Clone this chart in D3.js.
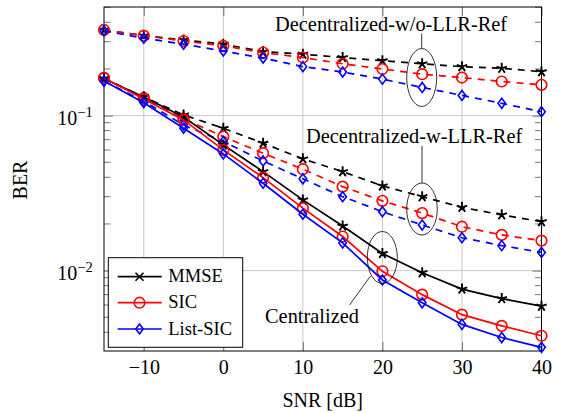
<!DOCTYPE html>
<html>
<head>
<meta charset="utf-8">
<script src="https://cdn.jsdelivr.net/npm/d3@7"></script>
<style>
  body { margin: 0; background: #fff; }
  text { font-family: "Liberation Serif", "Times New Roman", serif; fill: #000; }
</style>
</head>
<body>
<svg id="chart" width="562" height="413"></svg>
<script>
// SNR points [dB]
const snr = [-15, -10, -5, 0, 5, 10, 15, 20, 25, 30, 35, 40];

// Decentralized without LLR refinement (dashed, top group)
const woRefMMSE    = [0.357, 0.328, 0.308, 0.289, 0.259, 0.249, 0.237, 0.226, 0.216, 0.207, 0.202, 0.192];
const woRefSIC     = [0.357, 0.328, 0.303, 0.282, 0.255, 0.237, 0.216, 0.200, 0.185, 0.176, 0.166, 0.158];
const woRefListSIC = [0.352, 0.316, 0.289, 0.261, 0.235, 0.207, 0.191, 0.172, 0.152, 0.135, 0.120, 0.106];

// Decentralized with LLR refinement (dashed, middle group)
const wRefMMSE    = [0.173, 0.132, 0.101, 0.0829, 0.0664, 0.0526, 0.0435, 0.0352, 0.0300, 0.0256, 0.0229, 0.0207];
const wRefSIC     = [0.175, 0.130, 0.0953, 0.0732, 0.0572, 0.0451, 0.0348, 0.0282, 0.0235, 0.0192, 0.0170, 0.0156];
const wRefListSIC = [0.167, 0.124, 0.0869, 0.0680, 0.0510, 0.0391, 0.0300, 0.0240, 0.0197, 0.0163, 0.0145, 0.0131];

// Centralized (solid)
const centMMSE    = [0.173, 0.132, 0.098, 0.0647, 0.0435, 0.0286, 0.0194, 0.0129, 0.0097, 0.0076, 0.0066, 0.0059];
const centSIC     = [0.175, 0.128, 0.0938, 0.0601, 0.0398, 0.0253, 0.0166, 0.0099, 0.0070, 0.0052, 0.0044, 0.0038];
const centListSIC = [0.167, 0.121, 0.0829, 0.0566, 0.0366, 0.0231, 0.0151, 0.0087, 0.0062, 0.0045, 0.0037, 0.0032];

const xTicks = [-10, 0, 10, 20, 30, 40];
const yTicks = [0.01, 0.1];
const yTickExp = ["\u22122", "\u22121"];
const legendLabels = ["MMSE", "SIC", "List-SIC"];

const svg = d3.select("#chart");
const plot = { left: 104, right: 541.5, top: 7, bottom: 351 };

const x = d3.scaleLinear().domain([-15, 40]).range([plot.left, plot.right]);
const y = d3.scaleLog().domain([0.00303, 0.502]).range([plot.bottom, plot.top]);

// minor ticks 2..9 x 10^k inside the domain
const yMinor = [];
[0.001, 0.01, 0.1].forEach(dec => {
  for (let k = 2; k <= 9; k++) {
    const v = k * dec;
    if (v >= y.domain()[0] && v <= y.domain()[1]) yMinor.push(v);
  }
});

// grid
const grid = svg.append("g").attr("stroke", "#c8c8c8").attr("stroke-width", 1);
grid.selectAll("line.gx").data(xTicks).join("line")
  .attr("x1", d => x(d)).attr("x2", d => x(d))
  .attr("y1", plot.top).attr("y2", plot.bottom);
grid.selectAll("line.gy").data(yTicks).join("line")
  .attr("x1", plot.left).attr("x2", plot.right)
  .attr("y1", d => y(d)).attr("y2", d => y(d));

// minor ticks on left and right
const minor = svg.append("g").attr("stroke", "#555").attr("stroke-width", 0.8);
minor.selectAll("line.ml").data(yMinor).join("line")
  .attr("x1", plot.left).attr("x2", plot.left + 6.5)
  .attr("y1", d => y(d)).attr("y2", d => y(d));
minor.selectAll("line.mr").data(yMinor).join("line")
  .attr("x1", plot.right).attr("x2", plot.right - 6.5)
  .attr("y1", d => y(d)).attr("y2", d => y(d));

// axes (ticks pointing inward)
const xAxis = svg.append("g")
  .attr("transform", `translate(0,${plot.bottom})`)
  .call(d3.axisBottom(x).tickValues(xTicks).tickSizeInner(-9).tickSizeOuter(0).tickPadding(8.8));
const xAxisTop = svg.append("g")
  .attr("transform", `translate(0,${plot.top})`)
  .call(d3.axisTop(x).tickValues(xTicks).tickSizeInner(-9).tickSizeOuter(0).tickFormat(""));
const yAxis = svg.append("g")
  .attr("transform", `translate(${plot.left},0)`)
  .call(d3.axisLeft(y).tickValues(yTicks).tickSizeInner(-9).tickSizeOuter(0).tickPadding(11.3));
const yAxisRight = svg.append("g")
  .attr("transform", `translate(${plot.right},0)`)
  .call(d3.axisRight(y).tickValues(yTicks).tickSizeInner(-9).tickSizeOuter(0).tickFormat(""));

[xAxis, xAxisTop, yAxis, yAxisRight].forEach(g => {
  g.select(".domain").remove();
  g.selectAll(".tick line").attr("stroke", "#555").attr("stroke-width", 0.8);
  g.selectAll(".tick text").attr("font-family", "Liberation Serif").attr("font-size", 20);
});

// y labels as 10^k
yAxis.selectAll(".tick text").each(function(d, i) {
  const t = d3.select(this).text(null).attr("dy", "0.465em");
  t.append("tspan").text("10");
  t.append("tspan").attr("dy", -8.3).attr("font-size", 14.5).text(yTickExp[i]);
});

// frame
svg.append("rect")
  .attr("x", plot.left).attr("y", plot.top)
  .attr("width", plot.right - plot.left).attr("height", plot.bottom - plot.top)
  .attr("fill", "none").attr("stroke", "#000").attr("stroke-width", 1);

// axis titles
svg.append("text")
  .attr("x", (plot.left + plot.right) / 2).attr("y", 406.7)
  .attr("text-anchor", "middle").attr("font-size", 20).text("SNR [dB]");
svg.append("text")
  .attr("transform", `translate(27,180) rotate(-90)`)
  .attr("text-anchor", "middle").attr("font-size", 20).text("BER");

// series
const series = [
  { values: woRefMMSE,    color: "#000", dash: "7,6", mark: "star" },
  { values: woRefSIC,     color: "#f00", dash: "7,6", mark: "circle" },
  { values: woRefListSIC, color: "#00f", dash: "7,6", mark: "diamond" },
  { values: wRefMMSE,     color: "#000", dash: "7,6", mark: "star" },
  { values: wRefSIC,      color: "#f00", dash: "7,6", mark: "circle" },
  { values: wRefListSIC,  color: "#00f", dash: "7,6", mark: "diamond" },
  { values: centMMSE,     color: "#000", dash: null,  mark: "star" },
  { values: centSIC,      color: "#f00", dash: null,  mark: "circle" },
  { values: centListSIC,  color: "#00f", dash: null,  mark: "diamond" }
];

const line = d3.line().x(d => x(d[0])).y(d => y(d[1]));

function drawMark(g, kind, color) {
  if (kind === "circle") {
    g.append("circle").attr("r", 5.3).attr("fill", "none")
      .attr("stroke", color).attr("stroke-width", 1.6);
  } else if (kind === "diamond") {
    g.append("path").attr("d", "M0,-5L3.75,0L0,5L-3.75,0Z").attr("fill", "none")
      .attr("stroke", color).attr("stroke-width", 1.6);
  } else if (kind === "star") {
    const r = 5.5;
    let p = "";
    for (let k = 0; k < 5; k++) {
      const a = -Math.PI / 2 + k * 2 * Math.PI / 5;
      p += `M0,0L${r * Math.cos(a)},${r * Math.sin(a)}`;
    }
    g.append("path").attr("d", p).attr("stroke", color).attr("stroke-width", 1.9);
  } else if (kind === "cross") {
    const r = 4;
    g.append("path").attr("d", `M${-r},${-r}L${r},${r}M${-r},${r}L${r},${-r}`)
      .attr("stroke", color).attr("stroke-width", 1.6);
  }
}

series.forEach(s => {
  const pts = snr.map((v, i) => [v, s.values[i]]);
  svg.append("path").datum(pts)
    .attr("d", line).attr("fill", "none")
    .attr("stroke", s.color).attr("stroke-width", 1.7)
    .attr("stroke-dasharray", s.dash);
  pts.forEach(p => {
    const g = svg.append("g").attr("transform", `translate(${x(p[0])},${y(p[1])})`);
    drawMark(g, s.mark, s.color);
  });
});

// annotations: ellipses, pins, labels
const ann = svg.append("g").attr("fill", "none").attr("stroke", "#000").attr("stroke-width", 0.8);
ann.append("ellipse").attr("cx", 421.7).attr("cy", 77.5).attr("rx", 15).attr("ry", 29);
ann.append("line").attr("x1", 421.7).attr("y1", 33.5).attr("x2", 421.7).attr("y2", 48.5);
ann.append("ellipse").attr("cx", 422).attr("cy", 209).attr("rx", 15.3).attr("ry", 26);
ann.append("line").attr("x1", 422).attr("y1", 146).attr("x2", 422).attr("y2", 183);
ann.append("ellipse").attr("cx", 382.3).attr("cy", 257.5).attr("rx", 15).attr("ry", 26);
ann.append("line").attr("x1", 370.5).attr("y1", 276).attr("x2", 349.5).attr("y2", 305);

svg.append("text").attr("x", 275).attr("y", 30.5).attr("font-size", 20.4).text("Decentralized-w/o-LLR-Ref");
svg.append("text").attr("x", 306).attr("y", 142.7).attr("font-size", 20.4).text("Decentralized-w-LLR-Ref");
svg.append("text").attr("x", 265).attr("y", 323.3).attr("font-size", 20.4).text("Centralized");

// legend
const legend = svg.append("g");
legend.append("rect")
  .attr("x", 108.3).attr("y", 257.7).attr("width", 134.4).attr("height", 89.6)
  .attr("fill", "#fff").attr("stroke", "#000").attr("stroke-width", 1);
const legendMarks = ["cross", "circle", "diamond"];
const legendColors = ["#000", "#f00", "#00f"];
const rowY = [276.7, 302.7, 329];
legendLabels.forEach((lab, i) => {
  legend.append("line")
    .attr("x1", 117.7).attr("x2", 161.7).attr("y1", rowY[i]).attr("y2", rowY[i])
    .attr("stroke", legendColors[i]).attr("stroke-width", 1.7);
  drawMark(legend.append("g").attr("transform", `translate(139.5,${rowY[i]})`), legendMarks[i], legendColors[i]);
  legend.append("text").attr("x", 168.3).attr("y", rowY[i] + 5.5)
    .attr("font-size", 18.5).text(lab);
});
</script>
</body>
</html>
